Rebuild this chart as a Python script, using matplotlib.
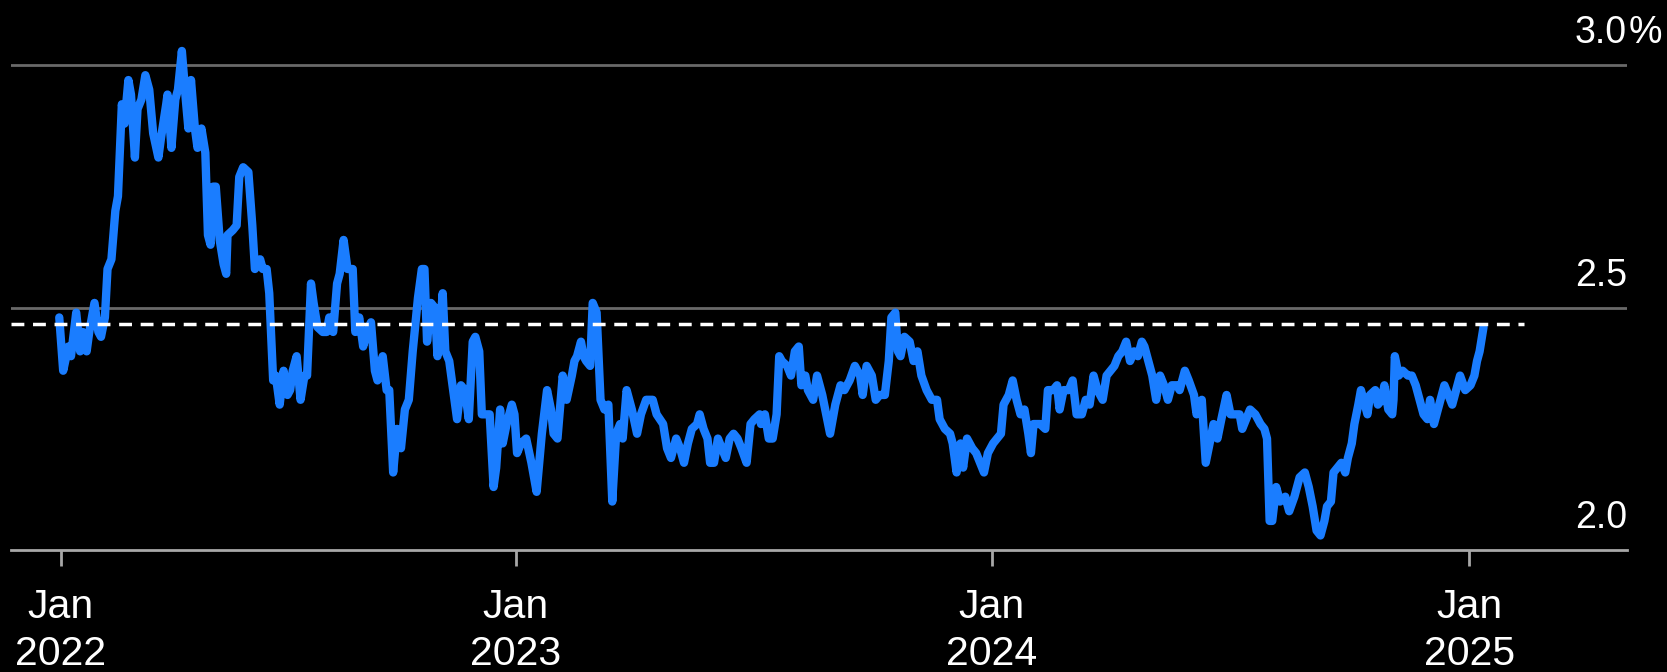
import matplotlib
matplotlib.use("Agg")
import numpy as np
import pandas as pd
import matplotlib.pyplot as plt

plt.rcParams["font.family"] = ["Liberation Sans", "DejaVu Sans"]

START = pd.Timestamp("2022-01-01")

# series: days since 2022-01-01 and level in %
days = [
    15, 18, 22, 24, 28, 31, 33, 36, 38, 42, 45, 47, 50, 52, 55, 58, 60, 63, 65, 68,
    70, 73, 75, 78, 81, 84, 87, 91, 93, 97, 98, 101, 104, 106, 109, 112, 114, 116, 119, 121,
    124, 127, 129, 131, 133, 135, 138, 141, 143, 144, 148, 151, 153, 156, 160, 163, 165, 169, 171, 174,
    176, 179, 181, 184, 187, 190,
    192, 194, 197, 200, 203, 205, 208, 210, 213, 217, 220, 222, 225, 228, 230, 233, 236, 240, 242, 245,
    248, 251, 254, 257, 259, 263, 266, 268, 271, 274, 277, 280, 283, 286, 290, 293, 295, 297, 300, 303,
    305, 309, 311, 314, 317, 320, 323, 326, 329, 332, 334, 337, 339, 343, 345, 348, 350, 353, 355, 358,
    362, 364, 366, 369, 373, 377, 381,
    385, 389, 392, 394, 397, 401, 404, 408, 410, 412, 415, 417, 419, 422, 424, 427, 430, 433, 436, 439,
    442, 445, 447, 450, 454, 458, 461, 465, 470, 473, 478, 481, 484, 488, 491, 494, 497, 500, 504, 506,
    509, 512, 514, 517, 520, 523, 526, 529, 532, 535, 538, 542, 545, 548, 552, 553, 556, 559, 562, 565,
    567, 569, 573, 576, 579,
    582, 584, 587, 589, 593, 596, 600, 603, 606, 610, 614, 617, 621, 625, 629, 631, 634, 638, 641, 644,
    648, 651, 653, 656, 658, 660, 663, 667, 670, 673, 676, 680, 684, 688, 690, 694, 698, 700, 703, 706,
    708, 711, 715, 718, 721, 724, 727, 731, 734, 737, 739, 743, 746, 749, 752, 755, 758, 760, 762, 767,
    771, 773, 777, 780, 782, 785, 789, 792, 795, 799, 802, 805, 808, 811, 815, 818, 821, 824, 827, 830,
    833, 836, 839, 842, 845, 847, 850, 853, 856, 859, 862, 865, 868, 872, 874, 878, 881, 885, 887, 891,
    894, 897, 900, 903, 906, 910, 913, 916, 920, 922, 925, 928, 932, 936, 939, 941, 943, 945, 948, 951,
    955, 958,
    962, 966, 970, 973, 976, 979, 982, 985, 987, 990, 992, 995, 998, 1001, 1003, 1006, 1008, 1011, 1013, 1015,
    1018, 1020, 1024, 1026, 1029, 1031, 1034, 1037, 1038, 1039, 1042, 1045, 1049, 1052, 1055, 1058, 1061, 1064, 1066, 1069,
    1071, 1074, 1077, 1080, 1083, 1086, 1089, 1093, 1097, 1100, 1102, 1104, 1107,
]
values = [
    2.48, 2.37, 2.42, 2.40, 2.49, 2.41, 2.45, 2.41, 2.45, 2.51, 2.45, 2.44, 2.48, 2.58, 2.60, 2.70, 2.73, 2.92, 2.88, 2.97,
    2.94, 2.81, 2.91, 2.93, 2.98, 2.95, 2.86, 2.81, 2.85, 2.92, 2.94, 2.83, 2.93, 2.95, 3.03, 2.93, 2.87, 2.97, 2.87, 2.83,
    2.87, 2.82, 2.65, 2.63, 2.75, 2.75, 2.64, 2.59, 2.57, 2.65, 2.66, 2.67, 2.77, 2.79, 2.78, 2.67, 2.58, 2.60, 2.58, 2.58,
    2.53, 2.35, 2.36, 2.30, 2.37, 2.32,
    2.33, 2.37, 2.40, 2.31, 2.36, 2.36, 2.55, 2.51, 2.46, 2.45, 2.45, 2.48, 2.45, 2.55, 2.57, 2.64, 2.58, 2.58, 2.45, 2.48,
    2.42, 2.45, 2.47, 2.37, 2.35, 2.40, 2.33, 2.33, 2.16, 2.25, 2.21, 2.29, 2.31, 2.41, 2.52, 2.58, 2.58, 2.43, 2.51, 2.50,
    2.40, 2.53, 2.41, 2.39, 2.33, 2.27, 2.34, 2.33, 2.27, 2.43, 2.44, 2.41, 2.28, 2.28, 2.28, 2.13, 2.17, 2.29, 2.22, 2.26,
    2.30, 2.28, 2.20, 2.22, 2.23, 2.18, 2.12,
    2.24, 2.33, 2.29, 2.24, 2.23, 2.36, 2.31, 2.36, 2.39, 2.40, 2.43, 2.40, 2.39, 2.38, 2.51, 2.49, 2.31, 2.29, 2.30, 2.10,
    2.24, 2.26, 2.23, 2.33, 2.29, 2.24, 2.28, 2.31, 2.31, 2.28, 2.26, 2.21, 2.19, 2.23, 2.21, 2.18, 2.22, 2.25, 2.26, 2.28,
    2.25, 2.23, 2.18, 2.18, 2.23, 2.21, 2.19, 2.23, 2.24, 2.23, 2.21, 2.18, 2.26, 2.27, 2.28, 2.26, 2.28, 2.23, 2.23, 2.28,
    2.40, 2.39, 2.38, 2.36, 2.41,
    2.42, 2.34, 2.36, 2.33, 2.31, 2.36, 2.32, 2.28, 2.24, 2.30, 2.34, 2.33, 2.35, 2.38, 2.36, 2.32, 2.38, 2.36, 2.31, 2.32,
    2.32, 2.39, 2.48, 2.49, 2.41, 2.40, 2.44, 2.43, 2.39, 2.41, 2.36, 2.33, 2.31, 2.31, 2.27, 2.25, 2.24, 2.22, 2.16, 2.22,
    2.17, 2.23, 2.21, 2.20, 2.18, 2.16, 2.20, 2.22, 2.23, 2.24, 2.30, 2.32, 2.35, 2.31, 2.28, 2.29, 2.24, 2.20, 2.26, 2.26,
    2.25, 2.33, 2.33, 2.34, 2.29, 2.33, 2.33, 2.35, 2.28, 2.28, 2.31, 2.30, 2.36, 2.33, 2.31, 2.36, 2.37, 2.38, 2.40, 2.41,
    2.43, 2.39, 2.41, 2.40, 2.43, 2.42, 2.39, 2.36, 2.31, 2.36, 2.34, 2.31, 2.34, 2.34, 2.33, 2.37, 2.35, 2.32, 2.28, 2.31,
    2.18, 2.22, 2.26, 2.23, 2.27, 2.32, 2.28, 2.28, 2.28, 2.25, 2.27, 2.29, 2.28, 2.26, 2.25, 2.23, 2.06, 2.06, 2.13, 2.10,
    2.11, 2.08,
    2.11, 2.15, 2.16, 2.13, 2.09, 2.04, 2.03, 2.06, 2.09, 2.10, 2.16, 2.17, 2.18, 2.16, 2.19, 2.22, 2.26, 2.30, 2.33, 2.31,
    2.28, 2.32, 2.33, 2.30, 2.31, 2.34, 2.29, 2.28, 2.31, 2.40, 2.36, 2.37, 2.36, 2.36, 2.34, 2.31, 2.28, 2.27, 2.31, 2.26,
    2.28, 2.31, 2.34, 2.32, 2.30, 2.33, 2.36, 2.33, 2.34, 2.36, 2.39, 2.41, 2.46,
]

tick_dates = ["2022-01-17", "2023-01-01", "2024-01-01", "2025-01-01"]
tick_labels = ["Jan\n2022", "Jan\n2023", "Jan\n2024", "Jan\n2025"]
grid_levels = [2.5, 3.0]
y_levels = [2.0, 2.5, 3.0]
y_labels = ["2.0", "2.5", "3.0"]
avg_level = 2.467
avg_end = "2025-02-12"
x_range = ["2021-12-10", "2025-05-02"]

BLUE = "#1a7dff"
GRID = "#696969"
AXIS = "#a8a8a8"

dates = START + pd.to_timedelta(days, unit="D")

fig = plt.figure(figsize=(16.67, 6.72), dpi=100, facecolor="black")
ax = fig.add_axes([0.0066, 0.18155, 0.9694, 0.79308])
ax.set_facecolor("black")

for lvl in grid_levels:
    ax.axhline(lvl, color=GRID, lw=2, zorder=1)

ax.plot(dates, values, color=BLUE, lw=6.0, solid_joinstyle="round",
        solid_capstyle="round", zorder=3)
ax.hlines(avg_level, pd.Timestamp(x_range[0]), pd.Timestamp(avg_end),
          colors="white", lw=2.5, linestyles=(0, (3.7, 2.5)), zorder=4)

ax.set_xlim(pd.Timestamp(x_range[0]), pd.Timestamp(x_range[1]))
ax.set_ylim(2.0, 3.1)

for side in ["top", "left", "right"]:
    ax.spines[side].set_visible(False)
ax.spines["bottom"].set_color(AXIS)
ax.spines["bottom"].set_linewidth(2)
ax.spines["bottom"].set_zorder(2)

ax.set_yticks([])
ax.set_xticks(pd.to_datetime(tick_dates))
ax.set_xticklabels(tick_labels, linespacing=1.28)
ax.tick_params(axis="x", length=11.5, width=2, color=AXIS, labelcolor="white",
               labelsize=29.5, pad=16)

# value labels sit above their gridline at the right edge
for lvl, lab in zip(y_levels, y_labels):
    ax.annotate(lab, xy=(1.0, lvl), xycoords=("axes fraction", "data"),
                xytext=(0, 16), textcoords="offset points",
                ha="right", va="baseline", color="white", fontsize=27)
ax.annotate("%", xy=(1.0, y_levels[-1]), xycoords=("axes fraction", "data"),
            xytext=(1, 16), textcoords="offset points",
            ha="left", va="baseline", color="white", fontsize=27,
            annotation_clip=False)

fig.savefig("out.png", dpi=100, facecolor="black")
